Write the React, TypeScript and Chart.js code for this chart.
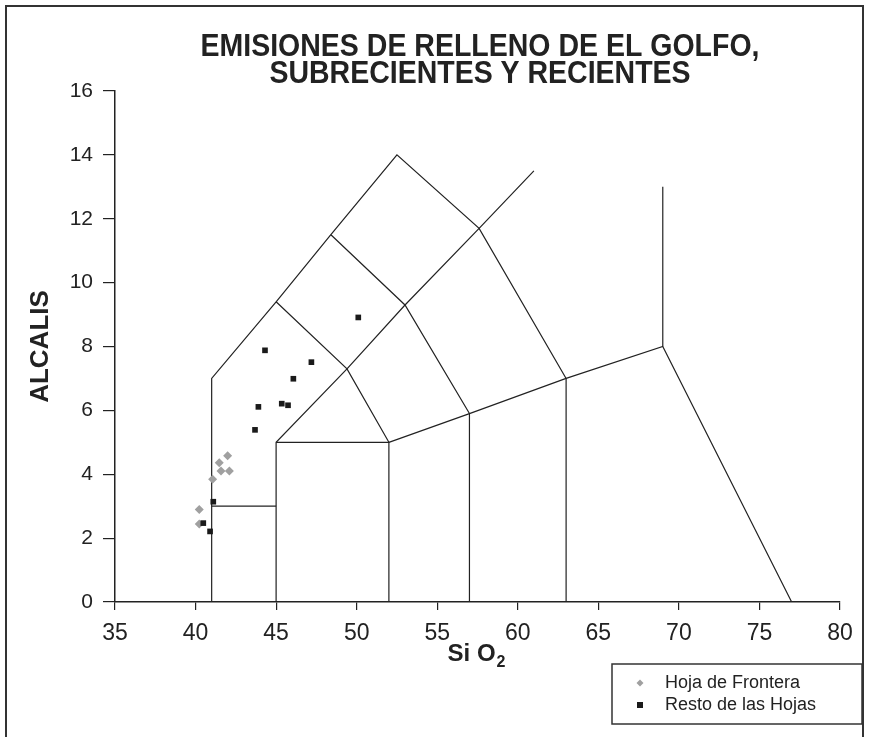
import React, { useEffect, useRef } from "react";
import { Chart, registerables } from "chart.js";

Chart.register(...registerables);

const TITLE_LINES = ["EMISIONES DE RELLENO DE EL GOLFO,", "SUBRECIENTES Y RECIENTES"];
const X_TICKS = [35, 40, 45, 50, 55, 60, 65, 70, 75, 80];
const Y_TICKS = [0, 2, 4, 6, 8, 10, 12, 14, 16];

// TAS field boundaries (SiO2, alkalis)
const TAS_LINES: number[][][] = [
  [[41, 0], [41, 7], [45, 9.4], [48.4, 11.5], [52.5, 14], [57.6, 11.7], [63, 7]],
  [[41, 3], [45, 3]],
  [[45, 0], [45, 5], [49.4, 7.3], [53, 9.3], [57.6, 11.7], [61, 13.5]],
  [[45, 5], [52, 5], [52, 0]],
  [[52, 5], [57, 5.9], [63, 7], [69, 8], [77, 0]],
  [[57, 0], [57, 5.9]],
  [[63, 0], [63, 7]],
  [[69, 8], [69, 13]],
  [[45, 9.4], [49.4, 7.3], [52, 5]],
  [[48.4, 11.5], [53, 9.3], [57, 5.9]],
];

const FRONTERA_SIO2 = [41.99, 41.47, 41.58, 42.1, 41.06, 40.23, 40.23];
const FRONTERA_ALK = [4.58, 4.36, 4.1, 4.1, 3.84, 2.9, 2.44];

const RESTO_SIO2 = [50.1, 44.31, 47.19, 46.07, 43.9, 45.35, 45.74, 43.69, 41.1, 40.48, 40.9];
const RESTO_ALK = [8.91, 7.88, 7.51, 6.99, 6.11, 6.21, 6.16, 5.39, 3.14, 2.47, 2.21];

const LEGEND_LABELS = ["Hoja de Frontera", "Resto de las Hojas"];

const FONT = "'Liberation Sans', Arial, sans-serif";

const decorPlugin = {
  id: "decor",
  afterDraw(chart: any) {
    const ctx = chart.ctx as CanvasRenderingContext2D;
    const H = chart.height;
    const ca = chart.chartArea;
    ctx.save();
    // outer frame
    ctx.strokeStyle = "#333";
    ctx.lineWidth = 2;
    ctx.beginPath();
    ctx.moveTo(6, H + 5);
    ctx.lineTo(6, 6);
    ctx.lineTo(863, 6);
    ctx.lineTo(863, H + 5);
    ctx.stroke();

    // title (slightly tall glyphs)
    ctx.fillStyle = "#222";
    ctx.textAlign = "center";
    ctx.textBaseline = "alphabetic";
    ctx.font = `bold 28.5px ${FONT}`;
    const cx = 480;
    ctx.save();
    ctx.translate(cx, 56);
    ctx.scale(1, 1.08);
    ctx.fillText(TITLE_LINES[0], 0, 0);
    ctx.restore();
    ctx.save();
    ctx.translate(cx, 83);
    ctx.scale(1, 1.08);
    ctx.fillText(TITLE_LINES[1], 0, 0);
    ctx.restore();

    // y title
    ctx.save();
    ctx.translate(48, (ca.top + ca.bottom) / 2);
    ctx.rotate(-Math.PI / 2);
    ctx.font = `bold 26px ${FONT}`;
    ctx.textAlign = "center";
    ctx.fillText("ALCALIS", 0, 0);
    ctx.restore();

    // x title Si O2
    ctx.font = `bold 24px ${FONT}`;
    ctx.textAlign = "left";
    const t1 = "Si O";
    const w1 = ctx.measureText(t1).width;
    ctx.font = `bold 16px ${FONT}`;
    const w2 = ctx.measureText("2").width;
    const startX = 476 - (w1 + w2) / 2;
    ctx.font = `bold 24px ${FONT}`;
    ctx.fillText(t1, startX, 661);
    ctx.font = `bold 16px ${FONT}`;
    ctx.fillText("2", startX + w1 + 1, 667);

    // legend
    const lx = 612, ly = 664, lw = 250, lh = 60;
    ctx.strokeStyle = "#333";
    ctx.lineWidth = 1.5;
    ctx.strokeRect(lx, ly, lw, lh);
    ctx.font = `18px ${FONT}`;
    ctx.fillStyle = "#222";
    ctx.textBaseline = "middle";
    ctx.fillText(LEGEND_LABELS[0], 665, 683);
    ctx.fillText(LEGEND_LABELS[1], 665, 705);
    // markers
    ctx.fillStyle = "#a0a0a0";
    ctx.beginPath();
    ctx.moveTo(640, 679.5);
    ctx.lineTo(643.5, 683);
    ctx.lineTo(640, 686.5);
    ctx.lineTo(636.5, 683);
    ctx.closePath();
    ctx.fill();
    ctx.fillStyle = "#1a1a1a";
    ctx.fillRect(637, 702, 6, 6);
    ctx.restore();
  },
};

export default function App() {
  const ref = useRef<HTMLCanvasElement>(null);
  useEffect(() => {
    const lineSets = TAS_LINES.map((seg) => ({
      type: "line" as const,
      data: seg.map(([x, y]) => ({ x, y })),
      borderColor: "#222",
      borderWidth: 1.2,
      pointRadius: 0,
      fill: false,
      showLine: true,
      tension: 0,
      order: 2,
    }));
    const chart = new Chart(ref.current!, {
      type: "scatter",
      data: {
        datasets: [
          ...lineSets,
          {
            label: LEGEND_LABELS[0],
            data: FRONTERA_SIO2.map((x, i) => ({ x, y: FRONTERA_ALK[i] })),
            pointStyle: "rectRot",
            pointRadius: 4.5,
            backgroundColor: "#a0a0a0",
            borderColor: "#a0a0a0",
            borderWidth: 0,
            order: 1,
          },
          {
            label: LEGEND_LABELS[1],
            data: RESTO_SIO2.map((x, i) => ({ x, y: RESTO_ALK[i] })),
            pointStyle: "rect",
            pointRadius: 4,
            backgroundColor: "#1a1a1a",
            borderColor: "#1a1a1a",
            borderWidth: 0,
            order: 0,
          },
        ] as any,
      },
      options: {
        animation: false,
        responsive: false,
        maintainAspectRatio: false,
        layout: { padding: { left: 0, right: 32, top: 91, bottom: 0 } },
        plugins: {
          legend: { display: false },
          tooltip: { enabled: false },
          title: { display: false },
        },
        scales: {
          x: {
            type: "linear",
            min: 35,
            max: 80,
            afterBuildTicks: (s: any) => {
              s.ticks = X_TICKS.map((v) => ({ value: v }));
            },
            afterFit: (s: any) => {
              s.height = 135;
            },
            grid: { drawOnChartArea: false, drawTicks: true, tickLength: 8, color: "#222", lineWidth: 1.2 },
            border: { display: true, color: "#222", width: 1.5 },
            ticks: {
              color: "#222",
              font: { family: FONT, size: 23 },
              padding: 10,
            },
          },
          y: {
            type: "linear",
            min: 0,
            max: 16,
            afterBuildTicks: (s: any) => {
              s.ticks = Y_TICKS.map((v) => ({ value: v }));
            },
            afterFit: (s: any) => {
              s.width = 115;
            },
            grid: { drawOnChartArea: false, drawTicks: true, tickLength: 12, color: "#222", lineWidth: 1.2 },
            border: { display: true, color: "#222", width: 1.5 },
            ticks: {
              color: "#222",
              font: { family: FONT, size: 21 },
              padding: 10,
            },
          },
        },
      },
      plugins: [decorPlugin],
    });
    return () => chart.destroy();
  }, []);
  return (
    <div style={{ position: "fixed", left: 0, top: 0, width: 872, height: 737, background: "#fff" }}>
      <canvas ref={ref} width={872} height={737} style={{ display: "block" }} />
    </div>
  );
}
